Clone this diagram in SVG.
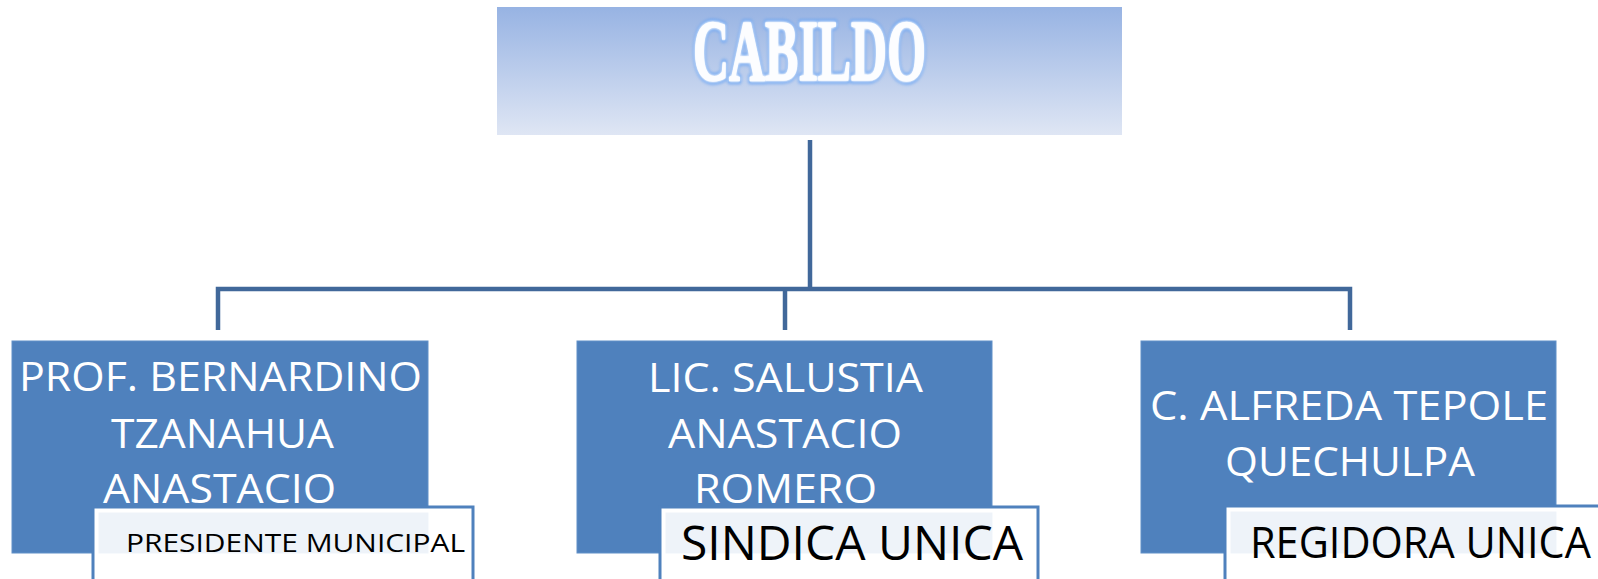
<svg xmlns="http://www.w3.org/2000/svg" width="1598" height="579" viewBox="0 0 1598 579">
<defs>
<linearGradient id="tg" x1="0" y1="0" x2="0" y2="1">
<stop offset="0" stop-color="#97b3e3"/>
<stop offset="1" stop-color="#dfe6f4"/>
</linearGradient>
<filter id="glow" x="-10%" y="-30%" width="120%" height="160%">
<feGaussianBlur stdDeviation="1.4"/>
</filter>
<style>
.node{fill:#4f81bd;stroke:#6190c8;stroke-width:1}
.nt{font-family:"Open Sans","Noto Sans",sans-serif;font-size:41px;fill:#ffffff}
.sub{fill:#ffffff;fill-opacity:0.9;stroke:#ffffff;stroke-width:5}
.subo{fill:none;stroke:#4f81bd;stroke-width:3}
.st{font-family:"Open Sans","Noto Sans",sans-serif;fill:#000000}
.conn{fill:none;stroke:#41689a;stroke-width:4.5}
.title{font-family:"Liberation Serif","Times New Roman",serif;font-weight:bold;font-size:86px;stroke-linejoin:round}
</style>
</defs>
<rect width="1598" height="579" fill="#ffffff"/>
<g id="cabildo">
<rect x="497" y="7" width="625" height="128" fill="url(#tg)"/>
<text class="title" x="693" y="80" textLength="233" lengthAdjust="spacingAndGlyphs" fill="none" stroke="#5f9cf0" stroke-width="7" filter="url(#glow)">CABILDO</text>
<text class="title" x="693" y="80" textLength="233" lengthAdjust="spacingAndGlyphs" fill="#6ea3ec" stroke="#6ea3ec" stroke-width="5">CABILDO</text>
<text class="title" x="693" y="80" textLength="233" lengthAdjust="spacingAndGlyphs" fill="#fbfcff" stroke="#fbfcff" stroke-width="3" filter="url(#glow)">CABILDO</text>
<text class="title" x="693" y="80" textLength="233" lengthAdjust="spacingAndGlyphs" fill="#fcfdff" stroke="#fcfdff" stroke-width="1.5">CABILDO</text>
</g>
<g id="connectors">
<line class="conn" x1="810" y1="140" x2="810" y2="289"/>
<polyline class="conn" points="218,330 218,289 1350,289 1350,330"/>
<line class="conn" x1="785" y1="289" x2="785" y2="330"/>
</g>
<g id="node-presidente">
<rect class="node" x="12" y="341" width="416" height="212"/>
<text class="nt" x="19" y="391" textLength="403" lengthAdjust="spacingAndGlyphs">PROF. BERNARDINO</text>
<text class="nt" x="111" y="448" textLength="223" lengthAdjust="spacingAndGlyphs">TZANAHUA</text>
<text class="nt" x="103" y="503" textLength="233" lengthAdjust="spacingAndGlyphs">ANASTACIO</text>
<rect class="sub" x="96" y="510" width="374" height="80"/>
<rect class="subo" x="93" y="507" width="380" height="90"/>
<text class="st" x="126" y="552" font-size="26" textLength="339" lengthAdjust="spacingAndGlyphs">PRESIDENTE MUNICIPAL</text>
</g>
<g id="node-sindica">
<rect class="node" x="577" y="341" width="415" height="212"/>
<text class="nt" x="648" y="392" textLength="275" lengthAdjust="spacingAndGlyphs">LIC. SALUSTIA</text>
<text class="nt" x="668" y="448" textLength="234" lengthAdjust="spacingAndGlyphs">ANASTACIO</text>
<text class="nt" x="694" y="503" textLength="183" lengthAdjust="spacingAndGlyphs">ROMERO</text>
<rect class="sub" x="663" y="510" width="372" height="80"/>
<rect class="subo" x="660" y="507" width="378" height="90"/>
<text class="st" x="681" y="560" font-size="48" textLength="342" lengthAdjust="spacingAndGlyphs">SINDICA UNICA</text>
</g>
<g id="node-regidora">
<rect class="node" x="1141" y="341" width="415" height="212"/>
<text class="nt" x="1150" y="420" textLength="398" lengthAdjust="spacingAndGlyphs">C. ALFREDA TEPOLE</text>
<text class="nt" x="1225" y="476" textLength="250" lengthAdjust="spacingAndGlyphs">QUECHULPA</text>
<rect class="sub" x="1228" y="509" width="380" height="80"/>
<rect class="subo" x="1225" y="506" width="386" height="90"/>
<text class="st" x="1250" y="558" font-size="43" textLength="341" lengthAdjust="spacingAndGlyphs">REGIDORA UNICA</text>
</g>
</svg>
